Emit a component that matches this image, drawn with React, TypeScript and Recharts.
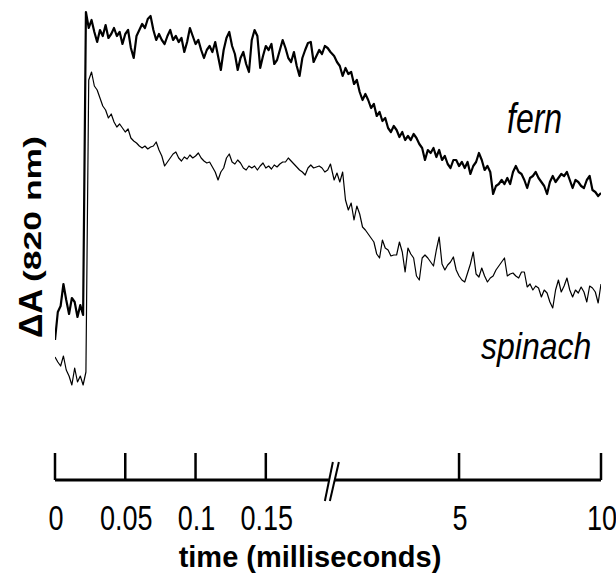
import React from 'react';
import { LineChart, Line, XAxis, YAxis, Customized } from 'recharts';

// ΔA (arbitrary units) sampled every 2 µs over the fast window (0 – 0.196 ms)
const fernFast = [
  140, 168, 174, 196, 180, 166, 182, 178, 163, 175, 165,
  468, 452, 460, 448, 438, 450, 444, 455, 442, 446, 452, 444, 448, 436, 446, 450, 432, 422, 444,
  450, 456, 452, 461, 464, 450, 440, 446, 440, 436, 444, 450, 440, 444, 438, 442, 428, 438, 452,
  444, 436, 440, 430, 422, 430, 434, 428, 438, 424, 410, 430, 442, 448, 434, 426, 410, 422, 428,
  416, 408, 440, 450, 444, 412, 424, 434, 430, 436, 416, 420, 430, 440, 432, 422, 418, 428, 414,
  404, 422, 430, 437, 438, 418, 424, 430, 426, 434, 432, 428,
];
const spinachFast = [
  123, 118, 114, 124, 110, 104, 95, 112, 98, 104, 95, 108,
  400, 408, 394, 390, 382, 374, 370, 362, 366, 358, 353, 356, 352, 348, 351, 342, 339, 337,
  334, 332, 334, 331, 333, 334, 338, 330, 324, 314, 318, 322, 326, 328, 322, 319, 323, 321,
  325, 322, 324, 327, 322, 319, 317, 318, 313, 308, 300, 308, 312, 322, 326, 318, 316, 320,
  317, 312, 310, 314, 312, 314, 310, 314, 317, 312, 314, 311, 315, 313, 316, 318, 318, 322,
  319, 316, 313, 310, 308, 305, 312, 315, 312, 313, 314, 312, 308, 310, 316,
];

// ΔA sampled every 0.1 ms over the slow window (0.6 – 10 ms)
const fernSlow = [
  424, 418, 414, 404, 412, 406, 408, 396, 400, 388, 380, 386, 380, 372, 376, 364, 368, 359, 362,
  352, 348, 354, 350, 343, 348, 340, 344, 340, 346, 342, 336, 332, 320, 330, 327, 332, 323, 330,
  320, 324, 316, 312, 320, 320, 314, 318, 312, 318, 306, 314, 318, 327, 320, 310, 314, 308, 286,
  294, 296, 300, 296, 302, 296, 308, 314, 308, 306, 300, 292, 302, 304, 308, 302, 298, 294, 286,
  298, 304, 298, 302, 306, 304, 308, 300, 292, 300, 298, 294, 292, 300, 304, 290, 288, 284, 287,
];
const spinachSlow = [
  300, 307, 298, 308, 280, 270, 277, 260, 274, 266, 253, 250, 246, 242, 238, 226, 222, 240, 232,
  230, 224, 225, 225, 238, 228, 208, 232, 226, 222, 204, 200, 222, 225, 222, 218, 214, 230, 243,
  216, 210, 215, 218, 223, 210, 204, 200, 198, 207, 216, 228, 206, 203, 212, 204, 198, 202, 204,
  210, 214, 218, 222, 204, 206, 207, 204, 202, 208, 208, 193, 196, 190, 194, 192, 183, 190, 187,
  178, 172, 190, 200, 188, 194, 202, 190, 183, 190, 187, 193, 188, 178, 194, 192, 188, 177, 196,
];

const tickTimes = [0, 0.05, 0.1, 0.15, 5, 10];
const tickLabels = ['0', '0.05', '0.1', '0.15', '5', '10'];

const FAST_STEP = 0.002;
const SLOW_START = 0.6;
const SLOW_STEP = 0.1;

// broken time axis: linear 0–0.2 ms, then a compressed ms scale after the //
const BREAK_POS = 3.94;
const SLOW_ORIGIN = 0.52;
const SLOW_SCALE = 0.404;
const toPos = (t: number) => (t <= 0.2 ? t / 0.05 : BREAK_POS + (t - SLOW_ORIGIN) * SLOW_SCALE);

const buildTrace = (fast: number[], slow: number[]) => [
  ...fast.map((v, i) => ({ pos: toPos(i * FAST_STEP), v })),
  ...slow.map((v, j) => ({ pos: toPos(SLOW_START + j * SLOW_STEP), v })),
];

const fernData = buildTrace(fernFast, fernSlow);
const spinachData = buildTrace(spinachFast, spinachSlow);

const tickPositions = tickTimes.map(toPos);
const axisTicks = [...tickPositions.slice(0, 4), BREAK_POS, ...tickPositions.slice(4)];

const FONT = '"Liberation Sans", Arial, sans-serif';

const AxisTick = (props: any) => {
  const { x, y, payload } = props;
  if (payload.value === BREAK_POS) {
    return (
      <g>
        <rect x={x - 3} y={y - 4} width={6} height={8} fill="#fff" />
        <line x1={x - 7} y1={y + 21} x2={x + 1} y2={y - 18} stroke="#000" strokeWidth={2} />
        <line x1={x - 2} y1={y + 21} x2={x + 7} y2={y - 18} stroke="#000" strokeWidth={2} />
      </g>
    );
  }
  const label = tickLabels[tickPositions.indexOf(payload.value)];
  return (
    <g>
      <line x1={x} y1={y} x2={x} y2={y - 27} stroke="#000" strokeWidth={2.5} />
      <text
        transform={`translate(${x + 1},${y + 50}) scale(0.82,1.05)`}
        textAnchor="middle"
        fontSize={33}
        fontFamily={FONT}
        fill="#000"
      >
        {label}
      </text>
    </g>
  );
};

const Annotations = () => (
  <g fontFamily={FONT} fill="#000">
    <text transform="translate(507,133) scale(1,1.3)" fontSize={32} fontStyle="italic">fern</text>
    <text transform="translate(481,359) scale(1,1.18)" fontSize={32} fontStyle="italic">spinach</text>
    <text transform="translate(42,338) rotate(-90)" fontSize={34} fontWeight={700}>ΔA</text>
    <text
      transform="translate(41,282) rotate(-90)"
      fontSize={23}
      fontWeight={700}
      textLength={146}
      lengthAdjust="spacingAndGlyphs"
    >
      (820 nm)
    </text>
    <text x={310} y={567} textAnchor="middle" fontSize={29} fontWeight={700}>time (milliseconds)</text>
  </g>
);

export default function App() {
  return (
    <div style={{ position: 'absolute', left: 0, top: 0, width: 616, height: 579, background: '#fff' }}>
      <LineChart width={616} height={579} margin={{ top: 5, right: 15, bottom: 39, left: 55 }}>
        <XAxis
          type="number"
          dataKey="pos"
          domain={[0, toPos(10)]}
          ticks={axisTicks}
          interval={0}
          allowDataOverflow
          height={60}
          tickSize={0}
          tickMargin={0}
          axisLine={{ stroke: '#000', strokeWidth: 3 }}
          tickLine={false}
          tick={<AxisTick />}
        />
        <YAxis hide width={0} domain={[0, 475]} type="number" />
        <Line
          data={spinachData}
          dataKey="v"
          type="linear"
          stroke="#000"
          strokeWidth={1.2}
          strokeLinejoin="round"
          dot={false}
          isAnimationActive={false}
        />
        <Line
          data={fernData}
          dataKey="v"
          type="linear"
          stroke="#000"
          strokeWidth={2.2}
          strokeLinejoin="round"
          dot={false}
          isAnimationActive={false}
        />
        <Customized component={Annotations} />
      </LineChart>
    </div>
  );
}
